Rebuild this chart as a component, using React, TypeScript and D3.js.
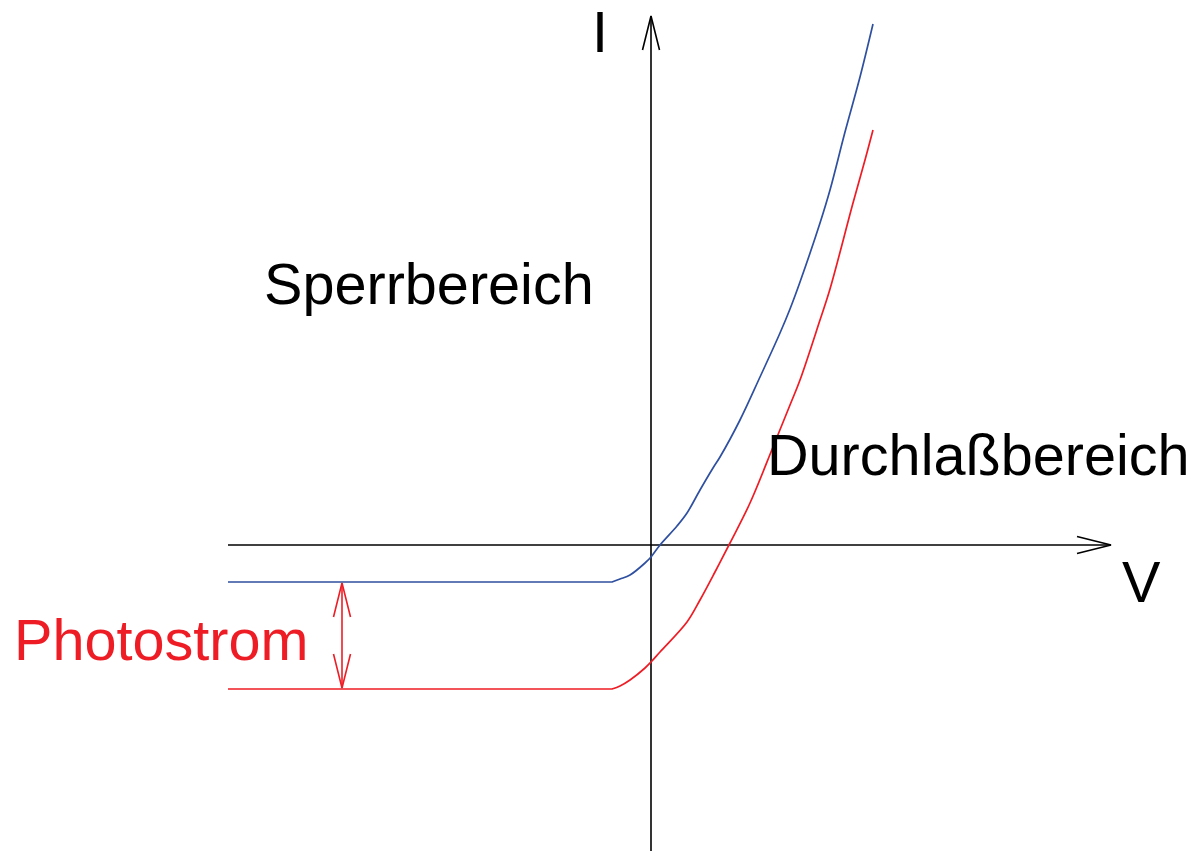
import React from "react";
import * as d3 from "d3";

// Dark characteristic (no illumination): voltage V and current I
const darkV = [-4.23, -0.39, -0.31, -0.21, -0.06, 0, 0.09, 0.26, 0.36, 0.49, 0.62, 0.69, 0.89, 1.09, 1.29, 1.39, 1.49, 1.69, 1.79, 1.94, 2.09, 2.22];
const darkI = [-0.37, -0.37, -0.34, -0.3, -0.18, -0.12, 0.0, 0.19, 0.32, 0.55, 0.77, 0.88, 1.25, 1.68, 2.12, 2.36, 2.63, 3.22, 3.55, 4.13, 4.68, 5.21];

// Illuminated characteristic, lowered by the photocurrent
const lightV = [-4.23, -0.39, -0.31, -0.21, -0.06, 0, 0.09, 0.36, 0.49, 0.64, 0.79, 0.99, 1.22, 1.39, 1.49, 1.69, 1.79, 2.02, 2.14, 2.22];
const lightI = [-1.44, -1.44, -1.41, -1.35, -1.23, -1.17, -1.07, -0.77, -0.55, -0.27, 0.02, 0.42, 0.98, 1.4, 1.65, 2.25, 2.56, 3.42, 3.85, 4.15];

// Axis extents (V and I)
const vExtent = [-4.23, 4.6];
const iExtent = [-3.06, 5.29];
// Where the photocurrent arrow sits on the V axis
const photoArrowV = -3.09;

const W = 1198;
const H = 851;
const FONT = "'Liberation Sans', Arial, sans-serif";
const BLUE = "#2f50a0";
const RED = "#ee1d25";

export default function App() {
  const x = d3.scaleLinear().domain(vExtent).range([228, 1111]);
  const y = d3.scaleLinear().domain(iExtent).range([851, 16]);

  // Flat reverse part is kept straight, the forward part is a smooth spline
  const flat = d3
    .line<[number, number]>()
    .x((d) => x(d[0]))
    .y((d) => y(d[1]));
  const bend = d3
    .line<[number, number]>()
    .x((d) => x(d[0]))
    .y((d) => y(d[1]))
    .curve(d3.curveCatmullRom.alpha(0.5));

  const curvePath = (pts: [number, number][]) => {
    const head = flat(pts.slice(0, 2)) ?? "";
    const tail = (bend(pts.slice(1)) ?? "").replace(/^M[^A-Za-z]*/, "");
    return head + tail;
  };

  const dark: [number, number][] = darkV.map((v, i) => [v, darkI[i]]);
  const light: [number, number][] = lightV.map((v, i) => [v, lightI[i]]);

  const x0 = x(0);
  const y0 = y(0);
  const xEnd = x(vExtent[1]);
  const yTop = y(iExtent[1]);

  // Open chevron arrowhead: tip at (tx, ty), pointing along (dx, dy)
  const chevron = (tx: number, ty: number, dx: number, dy: number, len = 34, half = 8.5) => {
    const px = -dy;
    const py = dx;
    const bx = tx - dx * len;
    const by = ty - dy * len;
    return `M${bx + px * half},${by + py * half}L${tx},${ty}L${bx - px * half},${by - py * half}`;
  };

  const ax = x(photoArrowV);
  const aTop = y(darkI[0]) + 1;
  const aBot = y(lightI[0]) - 1;

  return (
    <svg
      width={W}
      height={H}
      style={{ position: "absolute", left: 0, top: 0, background: "#fff" }}
    >
      {/* axes */}
      <g stroke="#000" strokeWidth={1.6} fill="none">
        <line x1={x(vExtent[0])} y1={y0} x2={xEnd} y2={y0} />
        <line x1={x0} y1={y(iExtent[0])} x2={x0} y2={yTop} />
        <path d={chevron(xEnd, y0, 1, 0)} />
        <path d={chevron(x0, yTop, 0, -1)} />
      </g>

      {/* characteristics */}
      <path d={curvePath(dark)} fill="none" stroke={BLUE} strokeWidth={1.7} />
      <path d={curvePath(light)} fill="none" stroke={RED} strokeWidth={1.7} />

      {/* photocurrent arrow */}
      <g stroke={RED} strokeWidth={1.6} fill="none">
        <line x1={ax} y1={aTop} x2={ax} y2={aBot} />
        <path d={chevron(ax, aTop, 0, -1)} />
        <path d={chevron(ax, aBot, 0, 1)} />
      </g>

      {/* labels */}
      <g fontFamily={FONT} fontSize={57.6}>
        <text x={592} y={52} fill="#000">I</text>
        <text x={1122} y={602} fill="#000">V</text>
        <text x={264} y={304} fill="#000">Sperrbereich</text>
        <text x={767} y={475} fill="#000">Durchlaßbereich</text>
        <text x={14} y={660} fill={RED}>Photostrom</text>
      </g>
    </svg>
  );
}
